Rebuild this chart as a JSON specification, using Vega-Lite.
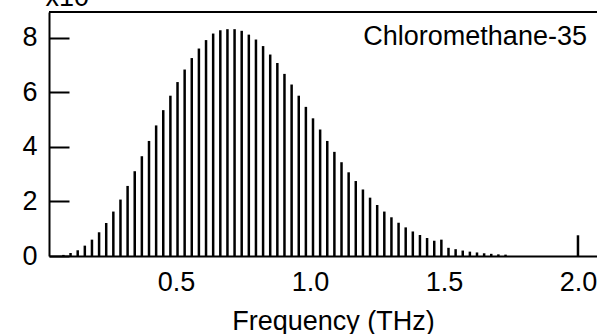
{
  "$schema": "https://vega.github.io/schema/vega-lite/v6.json",
  "width": 548,
  "height": 244,
  "autosize": {"type": "none"},
  "padding": {"left": 49, "top": 12, "right": 0, "bottom": 78},
  "background": "white",
  "config": {
    "view": {"stroke": null},
    "font": "Liberation Sans",
    "axis": {"labelFont": "Liberation Sans", "titleFont": "Liberation Sans", "labelColor": "black", "titleColor": "black", "domainColor": "black", "tickColor": "black", "grid": false}
  },
  "datasets": {
    "sticks": [
      {"f": 0.0798, "a": 0.04}, {"f": 0.1064, "a": 0.11}, {"f": 0.1331, "a": 0.21}, {"f": 0.1597, "a": 0.38},
      {"f": 0.1863, "a": 0.60}, {"f": 0.2129, "a": 0.87}, {"f": 0.2395, "a": 1.21}, {"f": 0.2661, "a": 1.63},
      {"f": 0.2927, "a": 2.07}, {"f": 0.3193, "a": 2.57}, {"f": 0.3459, "a": 3.11}, {"f": 0.3725, "a": 3.66},
      {"f": 0.3992, "a": 4.22}, {"f": 0.4258, "a": 4.79}, {"f": 0.4524, "a": 5.35}, {"f": 0.4790, "a": 5.88},
      {"f": 0.5056, "a": 6.38}, {"f": 0.5322, "a": 6.84}, {"f": 0.5588, "a": 7.26}, {"f": 0.5854, "a": 7.61},
      {"f": 0.6120, "a": 7.92}, {"f": 0.6386, "a": 8.16}, {"f": 0.6653, "a": 8.28}, {"f": 0.6919, "a": 8.32},
      {"f": 0.7185, "a": 8.32}, {"f": 0.7451, "a": 8.26}, {"f": 0.7717, "a": 8.12}, {"f": 0.7983, "a": 7.94},
      {"f": 0.8249, "a": 7.70}, {"f": 0.8515, "a": 7.39}, {"f": 0.8781, "a": 7.08}, {"f": 0.9047, "a": 6.68},
      {"f": 0.9314, "a": 6.29}, {"f": 0.9580, "a": 5.88}, {"f": 0.9846, "a": 5.47}, {"f": 1.0112, "a": 5.05},
      {"f": 1.0378, "a": 4.64}, {"f": 1.0644, "a": 4.22}, {"f": 1.0910, "a": 3.82}, {"f": 1.1176, "a": 3.44},
      {"f": 1.1442, "a": 3.07}, {"f": 1.1708, "a": 2.75}, {"f": 1.1975, "a": 2.44}, {"f": 1.2241, "a": 2.14},
      {"f": 1.2507, "a": 1.87}, {"f": 1.2773, "a": 1.63}, {"f": 1.3039, "a": 1.42}, {"f": 1.3305, "a": 1.22},
      {"f": 1.3571, "a": 1.05}, {"f": 1.3837, "a": 0.90}, {"f": 1.4103, "a": 0.77}, {"f": 1.4369, "a": 0.66},
      {"f": 1.4636, "a": 0.56}, {"f": 1.4902, "a": 0.60}, {"f": 1.5168, "a": 0.30}, {"f": 1.5434, "a": 0.25},
      {"f": 1.5700, "a": 0.20}, {"f": 1.5966, "a": 0.16}, {"f": 1.6232, "a": 0.13}, {"f": 1.6498, "a": 0.10},
      {"f": 1.6764, "a": 0.08}, {"f": 1.7030, "a": 0.06}, {"f": 1.7297, "a": 0.05},
      {"f": 2.0, "a": 0.76}
    ],
    "label": [{"f": 2.0335, "a": 7.74, "t": "Chloromethane-35"}],
    "frame": [{"top": 8.95}]
  },
  "layer": [
    {
      "data": {"name": "sticks"},
      "mark": {"type": "rule", "color": "black", "strokeWidth": 2.5},
      "encoding": {
        "x": {"field": "f", "type": "quantitative",
              "scale": {"domain": [0.026, 2.071], "nice": false, "zero": false},
              "axis": {"values": [0.5, 1.0, 1.5, 2.0], "format": ".1f", "ticks": false,
                       "domainWidth": 2, "labelFontSize": 27, "labelPadding": 13,
                       "labelFlush": false, "labelOverlap": false,
                       "title": "Frequency (THz)", "titleFontSize": 27, "titleFontWeight": "normal",
                       "titleX": 284, "titleY": 73, "titleBaseline": "alphabetic", "titleAnchor": null}},
        "y": {"field": "a", "type": "quantitative",
              "scale": {"domain": [0, 8.95], "nice": false},
              "axis": {"values": [0, 2, 4, 6, 8], "tickSize": -20, "tickWidth": 2, "domainWidth": 2,
                       "labelFontSize": 27, "labelPadding": 32, "labelFlush": false,
                       "title": "x10", "titleAngle": 0, "titleFontSize": 27, "titleFontWeight": "normal",
                       "titleAlign": "left", "titleBaseline": "alphabetic", "titleX": -4, "titleY": -7}},
        "y2": {"datum": 0}
      }
    },
    {
      "data": {"name": "frame"},
      "mark": {"type": "rule", "color": "black", "strokeWidth": 2},
      "encoding": {"y": {"field": "top", "type": "quantitative"}}
    },
    {
      "data": {"name": "label"},
      "mark": {"type": "text", "align": "right", "baseline": "alphabetic", "fontSize": 27, "font": "Liberation Sans", "color": "black"},
      "encoding": {
        "x": {"field": "f", "type": "quantitative"},
        "y": {"field": "a", "type": "quantitative"},
        "text": {"field": "t"}
      }
    }
  ]
}
